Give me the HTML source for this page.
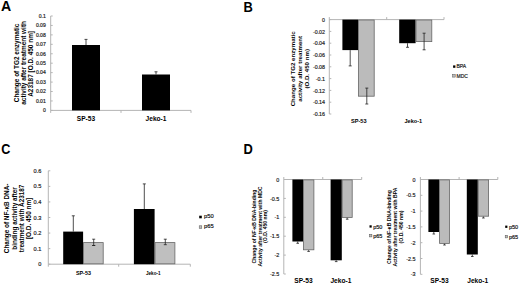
<!DOCTYPE html>
<html><head><meta charset="utf-8"><style>
html,body{margin:0;padding:0;background:#fff;}
svg{display:block;font-family:"Liberation Sans", sans-serif;}
</style></head><body>
<svg width="520" height="286" viewBox="0 0 520 286">
<rect width="520" height="286" fill="#fff"/>
<text transform="translate(1 11.4) scale(0.93 1)" font-size="15.2" font-weight="bold">A</text>
<line x1="50.7" y1="16" x2="50.7" y2="110.4" stroke="#b4b4b4" stroke-width="1"/>
<line x1="50.7" y1="110.4" x2="191" y2="110.4" stroke="#b4b4b4" stroke-width="1"/>
<line x1="50.7" y1="110.4" x2="52.7" y2="110.4" stroke="#b4b4b4" stroke-width="1"/>
<text x="45.8" y="112.2" font-size="5.1" text-anchor="end" fill="#222" stroke="#222" stroke-width="0.18">0</text>
<line x1="50.7" y1="100.96000000000001" x2="52.7" y2="100.96000000000001" stroke="#b4b4b4" stroke-width="1"/>
<text x="45.8" y="102.76" font-size="5.1" text-anchor="end" fill="#222" stroke="#222" stroke-width="0.18">0.01</text>
<line x1="50.7" y1="91.52000000000001" x2="52.7" y2="91.52000000000001" stroke="#b4b4b4" stroke-width="1"/>
<text x="45.8" y="93.32000000000001" font-size="5.1" text-anchor="end" fill="#222" stroke="#222" stroke-width="0.18">0.02</text>
<line x1="50.7" y1="82.08" x2="52.7" y2="82.08" stroke="#b4b4b4" stroke-width="1"/>
<text x="45.8" y="83.88" font-size="5.1" text-anchor="end" fill="#222" stroke="#222" stroke-width="0.18">0.03</text>
<line x1="50.7" y1="72.64" x2="52.7" y2="72.64" stroke="#b4b4b4" stroke-width="1"/>
<text x="45.8" y="74.44" font-size="5.1" text-anchor="end" fill="#222" stroke="#222" stroke-width="0.18">0.04</text>
<line x1="50.7" y1="63.2" x2="52.7" y2="63.2" stroke="#b4b4b4" stroke-width="1"/>
<text x="45.8" y="65.0" font-size="5.1" text-anchor="end" fill="#222" stroke="#222" stroke-width="0.18">0.05</text>
<line x1="50.7" y1="53.76" x2="52.7" y2="53.76" stroke="#b4b4b4" stroke-width="1"/>
<text x="45.8" y="55.559999999999995" font-size="5.1" text-anchor="end" fill="#222" stroke="#222" stroke-width="0.18">0.06</text>
<line x1="50.7" y1="44.31999999999999" x2="52.7" y2="44.31999999999999" stroke="#b4b4b4" stroke-width="1"/>
<text x="45.8" y="46.11999999999999" font-size="5.1" text-anchor="end" fill="#222" stroke="#222" stroke-width="0.18">0.07</text>
<line x1="50.7" y1="34.879999999999995" x2="52.7" y2="34.879999999999995" stroke="#b4b4b4" stroke-width="1"/>
<text x="45.8" y="36.67999999999999" font-size="5.1" text-anchor="end" fill="#222" stroke="#222" stroke-width="0.18">0.08</text>
<line x1="50.7" y1="25.439999999999998" x2="52.7" y2="25.439999999999998" stroke="#b4b4b4" stroke-width="1"/>
<text x="45.8" y="27.24" font-size="5.1" text-anchor="end" fill="#222" stroke="#222" stroke-width="0.18">0.09</text>
<line x1="50.7" y1="16.0" x2="52.7" y2="16.0" stroke="#b4b4b4" stroke-width="1"/>
<text x="45.8" y="17.8" font-size="5.1" text-anchor="end" fill="#222" stroke="#222" stroke-width="0.18">0.1</text>
<line x1="50.7" y1="110.4" x2="50.7" y2="112.9" stroke="#b4b4b4" stroke-width="1"/>
<line x1="121" y1="110.4" x2="121" y2="112.9" stroke="#b4b4b4" stroke-width="1"/>
<line x1="191" y1="110.4" x2="191" y2="112.9" stroke="#b4b4b4" stroke-width="1"/>
<rect x="72" y="45" width="28" height="65.4" fill="#000"/>
<line x1="86" y1="45" x2="86" y2="39.4" stroke="#222" stroke-width="0.8"/>
<line x1="84.5" y1="39.4" x2="87.5" y2="39.4" stroke="#222" stroke-width="0.8"/>
<rect x="142" y="74.5" width="28" height="35.900000000000006" fill="#000"/>
<line x1="156" y1="74.5" x2="156" y2="71.8" stroke="#222" stroke-width="0.8"/>
<line x1="154.5" y1="71.8" x2="157.5" y2="71.8" stroke="#222" stroke-width="0.8"/>
<text x="86" y="120.8" font-size="6.6" text-anchor="middle" font-weight="bold" fill="#000">SP-53</text>
<text x="156" y="120.8" font-size="6.6" text-anchor="middle" font-weight="bold" fill="#000">Jeko-1</text>
<text x="19.3" y="62.9" font-size="6.45" text-anchor="middle" font-weight="bold" fill="#000" transform="rotate(-90 19.3 62.9)">Change of TG2 enzymatic</text>
<text x="26.1" y="62.9" font-size="6.45" text-anchor="middle" font-weight="bold" fill="#000" transform="rotate(-90 26.1 62.9)">activity after treatment with</text>
<text x="33.3" y="63.9" font-size="6.45" text-anchor="middle" font-weight="bold" fill="#000" transform="rotate(-90 33.3 63.9)">A23187 [O.D. 450 nm]</text>
<text transform="translate(243.6 11.8) scale(0.87 1)" font-size="14.8" font-weight="bold">B</text>
<line x1="329.3" y1="19.6" x2="329.3" y2="114" stroke="#b4b4b4" stroke-width="1"/>
<line x1="329.3" y1="19.6" x2="444" y2="19.6" stroke="#b4b4b4" stroke-width="1"/>
<line x1="329.3" y1="19.6" x2="331.3" y2="19.6" stroke="#b4b4b4" stroke-width="1"/>
<text x="325" y="21.700000000000003" font-size="5.3" text-anchor="end" fill="#222" stroke="#222" stroke-width="0.18">0</text>
<line x1="329.3" y1="31.400000000000002" x2="331.3" y2="31.400000000000002" stroke="#b4b4b4" stroke-width="1"/>
<text x="325" y="33.5" font-size="5.3" text-anchor="end" fill="#222" stroke="#222" stroke-width="0.18">-0.02</text>
<line x1="329.3" y1="43.2" x2="331.3" y2="43.2" stroke="#b4b4b4" stroke-width="1"/>
<text x="325" y="45.300000000000004" font-size="5.3" text-anchor="end" fill="#222" stroke="#222" stroke-width="0.18">-0.04</text>
<line x1="329.3" y1="55.00000000000001" x2="331.3" y2="55.00000000000001" stroke="#b4b4b4" stroke-width="1"/>
<text x="325" y="57.10000000000001" font-size="5.3" text-anchor="end" fill="#222" stroke="#222" stroke-width="0.18">-0.06</text>
<line x1="329.3" y1="66.80000000000001" x2="331.3" y2="66.80000000000001" stroke="#b4b4b4" stroke-width="1"/>
<text x="325" y="68.9" font-size="5.3" text-anchor="end" fill="#222" stroke="#222" stroke-width="0.18">-0.08</text>
<line x1="329.3" y1="78.6" x2="331.3" y2="78.6" stroke="#b4b4b4" stroke-width="1"/>
<text x="325" y="80.69999999999999" font-size="5.3" text-anchor="end" fill="#222" stroke="#222" stroke-width="0.18">-0.1</text>
<line x1="329.3" y1="90.4" x2="331.3" y2="90.4" stroke="#b4b4b4" stroke-width="1"/>
<text x="325" y="92.5" font-size="5.3" text-anchor="end" fill="#222" stroke="#222" stroke-width="0.18">-0.12</text>
<line x1="329.3" y1="102.20000000000002" x2="331.3" y2="102.20000000000002" stroke="#b4b4b4" stroke-width="1"/>
<text x="325" y="104.30000000000001" font-size="5.3" text-anchor="end" fill="#222" stroke="#222" stroke-width="0.18">-0.14</text>
<line x1="329.3" y1="114.0" x2="331.3" y2="114.0" stroke="#b4b4b4" stroke-width="1"/>
<text x="325" y="116.1" font-size="5.3" text-anchor="end" fill="#222" stroke="#222" stroke-width="0.18">-0.16</text>
<line x1="329.3" y1="19.6" x2="329.3" y2="17.1" stroke="#b4b4b4" stroke-width="1"/>
<line x1="386.7" y1="19.6" x2="386.7" y2="17.1" stroke="#b4b4b4" stroke-width="1"/>
<line x1="444" y1="19.6" x2="444" y2="17.1" stroke="#b4b4b4" stroke-width="1"/>
<rect x="342.4" y="19.6" width="15.600000000000023" height="30.5" fill="#000"/>
<line x1="350.2" y1="50.1" x2="350.2" y2="65.9" stroke="#222" stroke-width="0.8"/>
<line x1="348.7" y1="65.9" x2="351.7" y2="65.9" stroke="#222" stroke-width="0.8"/>
<rect x="358.4" y="20.0" width="15.800000000000022" height="76.2" fill="#bbbbbb" stroke="#666" stroke-width="0.8"/>
<line x1="366.8" y1="88.1" x2="366.8" y2="104" stroke="#222" stroke-width="0.8"/>
<line x1="365.3" y1="104" x2="368.3" y2="104" stroke="#222" stroke-width="0.8"/>
<rect x="399.2" y="19.6" width="16.400000000000034" height="23.6" fill="#000"/>
<line x1="407.5" y1="43.2" x2="407.5" y2="47.3" stroke="#222" stroke-width="0.8"/>
<line x1="406.0" y1="47.3" x2="409.0" y2="47.3" stroke="#222" stroke-width="0.8"/>
<rect x="416.0" y="20.0" width="15.799999999999965" height="21.599999999999998" fill="#bbbbbb" stroke="#666" stroke-width="0.8"/>
<line x1="424.1" y1="33.2" x2="424.1" y2="49.8" stroke="#222" stroke-width="0.8"/>
<line x1="422.6" y1="49.8" x2="425.6" y2="49.8" stroke="#222" stroke-width="0.8"/>
<line x1="422.6" y1="33.2" x2="425.6" y2="33.2" stroke="#222" stroke-width="0.8"/>
<line x1="365.3" y1="88.1" x2="368.3" y2="88.1" stroke="#222" stroke-width="0.8"/>
<text x="358.8" y="123.4" font-size="5.6" text-anchor="middle" font-weight="bold" fill="#000">SP-53</text>
<text x="413.3" y="123.4" font-size="5.6" text-anchor="middle" font-weight="bold" fill="#000">Jeko-1</text>
<rect x="453.1" y="65.4" width="2.3" height="2.4" fill="#000"/>
<text x="456.5" y="68.4" font-size="5" text-anchor="start" fill="#222" stroke="#222" stroke-width="0.18">BPA</text>
<rect x="452.6" y="74.4" width="2.6" height="2.7" fill="#bbbbbb" stroke="#555" stroke-width="0.5"/>
<text x="456.5" y="77.5" font-size="5" text-anchor="start" fill="#222" stroke="#222" stroke-width="0.18">MDC</text>
<text x="295.2" y="68.8" font-size="6.15" text-anchor="middle" font-weight="bold" fill="#000" transform="rotate(-90 295.2 68.8)">Change of TG2 enzymatic</text>
<text x="302.3" y="68.8" font-size="6.15" text-anchor="middle" font-weight="bold" fill="#000" transform="rotate(-90 302.3 68.8)">activity after treatment</text>
<text x="309.3" y="68.8" font-size="6.15" text-anchor="middle" font-weight="bold" fill="#000" transform="rotate(-90 309.3 68.8)">(O.D. 450 nm)</text>
<text transform="translate(1.2 153.9) scale(0.85 1)" font-size="14.8" font-weight="bold">C</text>
<line x1="48.3" y1="170.8" x2="48.3" y2="264.2" stroke="#b4b4b4" stroke-width="1"/>
<line x1="48.3" y1="264.2" x2="190.3" y2="264.2" stroke="#b4b4b4" stroke-width="1"/>
<line x1="48.3" y1="264.2" x2="50.3" y2="264.2" stroke="#b4b4b4" stroke-width="1"/>
<text x="41.3" y="266.2" font-size="5.6" text-anchor="end" fill="#222" stroke="#222" stroke-width="0.18">0</text>
<line x1="48.3" y1="248.63333333333333" x2="50.3" y2="248.63333333333333" stroke="#b4b4b4" stroke-width="1"/>
<text x="41.3" y="250.63333333333333" font-size="5.6" text-anchor="end" fill="#222" stroke="#222" stroke-width="0.18">0.1</text>
<line x1="48.3" y1="233.06666666666666" x2="50.3" y2="233.06666666666666" stroke="#b4b4b4" stroke-width="1"/>
<text x="41.3" y="235.06666666666666" font-size="5.6" text-anchor="end" fill="#222" stroke="#222" stroke-width="0.18">0.2</text>
<line x1="48.3" y1="217.5" x2="50.3" y2="217.5" stroke="#b4b4b4" stroke-width="1"/>
<text x="41.3" y="219.5" font-size="5.6" text-anchor="end" fill="#222" stroke="#222" stroke-width="0.18">0.3</text>
<line x1="48.3" y1="201.93333333333334" x2="50.3" y2="201.93333333333334" stroke="#b4b4b4" stroke-width="1"/>
<text x="41.3" y="203.93333333333334" font-size="5.6" text-anchor="end" fill="#222" stroke="#222" stroke-width="0.18">0.4</text>
<line x1="48.3" y1="186.36666666666667" x2="50.3" y2="186.36666666666667" stroke="#b4b4b4" stroke-width="1"/>
<text x="41.3" y="188.36666666666667" font-size="5.6" text-anchor="end" fill="#222" stroke="#222" stroke-width="0.18">0.5</text>
<line x1="48.3" y1="170.8" x2="50.3" y2="170.8" stroke="#b4b4b4" stroke-width="1"/>
<text x="41.3" y="172.8" font-size="5.6" text-anchor="end" fill="#222" stroke="#222" stroke-width="0.18">0.6</text>
<line x1="48.3" y1="264.2" x2="48.3" y2="266.7" stroke="#b4b4b4" stroke-width="1"/>
<line x1="118.7" y1="264.2" x2="118.7" y2="266.7" stroke="#b4b4b4" stroke-width="1"/>
<line x1="190.3" y1="264.2" x2="190.3" y2="266.7" stroke="#b4b4b4" stroke-width="1"/>
<rect x="63.2" y="231.6" width="19.89999999999999" height="32.599999999999994" fill="#000"/>
<line x1="73.3" y1="231.6" x2="73.3" y2="215.8" stroke="#222" stroke-width="0.8"/>
<line x1="71.8" y1="215.8" x2="74.8" y2="215.8" stroke="#222" stroke-width="0.8"/>
<rect x="83.5" y="242.6" width="19.7" height="21.2" fill="#bfbfbf" stroke="#666" stroke-width="0.8"/>
<line x1="93.7" y1="239.2" x2="93.7" y2="245.5" stroke="#222" stroke-width="0.8"/>
<line x1="92.2" y1="245.5" x2="95.2" y2="245.5" stroke="#222" stroke-width="0.8"/>
<line x1="92.2" y1="245.5" x2="95.2" y2="245.5" stroke="#222" stroke-width="0.8"/>
<line x1="92.2" y1="239.2" x2="95.2" y2="239.2" stroke="#222" stroke-width="0.8"/>
<rect x="133.9" y="209" width="20.69999999999999" height="55.19999999999999" fill="#000"/>
<line x1="144.3" y1="209" x2="144.3" y2="183.9" stroke="#222" stroke-width="0.8"/>
<line x1="142.8" y1="183.9" x2="145.8" y2="183.9" stroke="#222" stroke-width="0.8"/>
<rect x="155.0" y="242.6" width="19.900000000000016" height="21.2" fill="#bfbfbf" stroke="#666" stroke-width="0.8"/>
<line x1="165.3" y1="239.2" x2="165.3" y2="244.7" stroke="#222" stroke-width="0.8"/>
<line x1="163.8" y1="244.7" x2="166.8" y2="244.7" stroke="#222" stroke-width="0.8"/>
<line x1="163.8" y1="239.2" x2="166.8" y2="239.2" stroke="#222" stroke-width="0.8"/>
<text x="83.4" y="274.8" font-size="5.4" text-anchor="middle" font-weight="bold" fill="#000">SP-53</text>
<text x="153.3" y="274.8" font-size="5.4" text-anchor="middle" font-weight="bold" fill="#000" textLength="14.6" lengthAdjust="spacingAndGlyphs">Jeko-1</text>
<rect x="199.2" y="215.7" width="2.6" height="2.6" fill="#000"/>
<text x="204.1" y="218.1" font-size="5.8" text-anchor="start" fill="#111" stroke="#111" stroke-width="0.18">p50</text>
<rect x="199.2" y="225.8" width="2.6" height="2.6" fill="#bbbbbb" stroke="#555" stroke-width="0.5"/>
<text x="204.1" y="228.3" font-size="5.8" text-anchor="start" fill="#111" stroke="#111" stroke-width="0.18">p65</text>
<text x="8.899999999999999" y="218.4" font-size="6.4" text-anchor="middle" font-weight="bold" fill="#000" transform="rotate(-90 8.899999999999999 218.4)">Change of NF-κB DNA-</text>
<text x="16.6" y="218.4" font-size="6.4" text-anchor="middle" font-weight="bold" fill="#000" transform="rotate(-90 16.6 218.4)">binding activity after</text>
<text x="24.2" y="218.4" font-size="6.4" text-anchor="middle" font-weight="bold" fill="#000" transform="rotate(-90 24.2 218.4)">treatment with A23187</text>
<text x="30.7" y="218.4" font-size="6.4" text-anchor="middle" font-weight="bold" fill="#000" transform="rotate(-90 30.7 218.4)">[O.D. 450 nm]</text>
<text transform="translate(243.6 153.9) scale(0.87 1)" font-size="14.8" font-weight="bold">D</text>
<line x1="283.8" y1="179.5" x2="283.8" y2="274" stroke="#b4b4b4" stroke-width="1"/>
<line x1="283.8" y1="179.5" x2="361.7" y2="179.5" stroke="#b4b4b4" stroke-width="1"/>
<line x1="283.8" y1="179.5" x2="285.8" y2="179.5" stroke="#b4b4b4" stroke-width="1"/>
<text x="279.3" y="181.6" font-size="5.4" text-anchor="end" fill="#222" stroke="#222" stroke-width="0.18">0</text>
<line x1="283.8" y1="198.4" x2="285.8" y2="198.4" stroke="#b4b4b4" stroke-width="1"/>
<text x="279.3" y="200.5" font-size="5.4" text-anchor="end" fill="#222" stroke="#222" stroke-width="0.18">-0.5</text>
<line x1="283.8" y1="217.3" x2="285.8" y2="217.3" stroke="#b4b4b4" stroke-width="1"/>
<text x="279.3" y="219.4" font-size="5.4" text-anchor="end" fill="#222" stroke="#222" stroke-width="0.18">-1</text>
<line x1="283.8" y1="236.2" x2="285.8" y2="236.2" stroke="#b4b4b4" stroke-width="1"/>
<text x="279.3" y="238.29999999999998" font-size="5.4" text-anchor="end" fill="#222" stroke="#222" stroke-width="0.18">-1.5</text>
<line x1="283.8" y1="255.1" x2="285.8" y2="255.1" stroke="#b4b4b4" stroke-width="1"/>
<text x="279.3" y="257.2" font-size="5.4" text-anchor="end" fill="#222" stroke="#222" stroke-width="0.18">-2</text>
<line x1="283.8" y1="274.0" x2="285.8" y2="274.0" stroke="#b4b4b4" stroke-width="1"/>
<text x="279.3" y="276.1" font-size="5.4" text-anchor="end" fill="#222" stroke="#222" stroke-width="0.18">-2.5</text>
<line x1="283.8" y1="179.5" x2="283.8" y2="177.0" stroke="#b4b4b4" stroke-width="1"/>
<line x1="322.75" y1="179.5" x2="322.75" y2="177.0" stroke="#b4b4b4" stroke-width="1"/>
<line x1="361.7" y1="179.5" x2="361.7" y2="177.0" stroke="#b4b4b4" stroke-width="1"/>
<rect x="292.4" y="179.5" width="10.600000000000023" height="62.0" fill="#000"/>
<rect x="303.4" y="179.9" width="10.50000000000001" height="69.89999999999999" fill="#bbbbbb" stroke="#666" stroke-width="0.8"/>
<rect x="330.6" y="179.5" width="11.199999999999989" height="80.80000000000001" fill="#000"/>
<rect x="342.2" y="179.9" width="10.00000000000001" height="37.500000000000014" fill="#bbbbbb" stroke="#666" stroke-width="0.8"/>
<line x1="297.7" y1="241.5" x2="297.7" y2="243.3" stroke="#222" stroke-width="0.8"/>
<line x1="296.4" y1="243.3" x2="299.0" y2="243.3" stroke="#222" stroke-width="0.8"/>
<line x1="308.6" y1="250.2" x2="308.6" y2="251.4" stroke="#222" stroke-width="0.8"/>
<line x1="307.3" y1="251.4" x2="309.90000000000003" y2="251.4" stroke="#222" stroke-width="0.8"/>
<line x1="336.2" y1="260.3" x2="336.2" y2="261.6" stroke="#222" stroke-width="0.8"/>
<line x1="334.9" y1="261.6" x2="337.5" y2="261.6" stroke="#222" stroke-width="0.8"/>
<line x1="347.2" y1="217.8" x2="347.2" y2="219.2" stroke="#222" stroke-width="0.8"/>
<line x1="345.9" y1="219.2" x2="348.5" y2="219.2" stroke="#222" stroke-width="0.8"/>
<text x="303.4" y="283.4" font-size="6.6" text-anchor="middle" font-weight="bold" fill="#000">SP-53</text>
<text x="340.9" y="283.4" font-size="6.6" text-anchor="middle" font-weight="bold" fill="#000">Jeko-1</text>
<rect x="369.5" y="225.3" width="2.2" height="2.3" fill="#000"/>
<text x="373.2" y="228.5" font-size="5.5" text-anchor="start" fill="#111" stroke="#111" stroke-width="0.18">p50</text>
<rect x="369.5" y="234.3" width="2.4" height="2.6" fill="#bbbbbb" stroke="#555" stroke-width="0.5"/>
<text x="373.2" y="237.5" font-size="5.5" text-anchor="start" fill="#111" stroke="#111" stroke-width="0.18">p65</text>
<text x="255.9" y="226.5" font-size="5.1" text-anchor="middle" font-weight="bold" fill="#000" transform="rotate(-90 255.9 226.5)">Change of NF-κB DNA-binding</text>
<text x="261.7" y="226.5" font-size="5.1" text-anchor="middle" font-weight="bold" fill="#000" transform="rotate(-90 261.7 226.5)">Activity after treatment with MDC</text>
<text x="267.3" y="226.5" font-size="5.1" text-anchor="middle" font-weight="bold" fill="#000" transform="rotate(-90 267.3 226.5)">(O.D. 450 nm)</text>
<line x1="420.4" y1="179.5" x2="420.4" y2="274.3" stroke="#b4b4b4" stroke-width="1"/>
<line x1="420.4" y1="179.5" x2="497.8" y2="179.5" stroke="#b4b4b4" stroke-width="1"/>
<line x1="420.4" y1="179.5" x2="422.4" y2="179.5" stroke="#b4b4b4" stroke-width="1"/>
<text x="415.6" y="181.6" font-size="5.4" text-anchor="end" fill="#222" stroke="#222" stroke-width="0.18">0</text>
<line x1="420.4" y1="195.3" x2="422.4" y2="195.3" stroke="#b4b4b4" stroke-width="1"/>
<text x="415.6" y="197.4" font-size="5.4" text-anchor="end" fill="#222" stroke="#222" stroke-width="0.18">-0.5</text>
<line x1="420.4" y1="211.1" x2="422.4" y2="211.1" stroke="#b4b4b4" stroke-width="1"/>
<text x="415.6" y="213.2" font-size="5.4" text-anchor="end" fill="#222" stroke="#222" stroke-width="0.18">-1</text>
<line x1="420.4" y1="226.9" x2="422.4" y2="226.9" stroke="#b4b4b4" stroke-width="1"/>
<text x="415.6" y="229.0" font-size="5.4" text-anchor="end" fill="#222" stroke="#222" stroke-width="0.18">-1.5</text>
<line x1="420.4" y1="242.70000000000002" x2="422.4" y2="242.70000000000002" stroke="#b4b4b4" stroke-width="1"/>
<text x="415.6" y="244.8" font-size="5.4" text-anchor="end" fill="#222" stroke="#222" stroke-width="0.18">-2</text>
<line x1="420.4" y1="258.5" x2="422.4" y2="258.5" stroke="#b4b4b4" stroke-width="1"/>
<text x="415.6" y="260.6" font-size="5.4" text-anchor="end" fill="#222" stroke="#222" stroke-width="0.18">-2.5</text>
<line x1="420.4" y1="274.3" x2="422.4" y2="274.3" stroke="#b4b4b4" stroke-width="1"/>
<text x="415.6" y="276.40000000000003" font-size="5.4" text-anchor="end" fill="#222" stroke="#222" stroke-width="0.18">-3</text>
<line x1="420.4" y1="179.5" x2="420.4" y2="177.0" stroke="#b4b4b4" stroke-width="1"/>
<line x1="459.1" y1="179.5" x2="459.1" y2="177.0" stroke="#b4b4b4" stroke-width="1"/>
<line x1="497.8" y1="179.5" x2="497.8" y2="177.0" stroke="#b4b4b4" stroke-width="1"/>
<rect x="428.4" y="179.5" width="10.800000000000011" height="52.5" fill="#000"/>
<rect x="439.59999999999997" y="179.9" width="9.899999999999988" height="63.500000000000014" fill="#bbbbbb" stroke="#666" stroke-width="0.8"/>
<rect x="466.8" y="179.5" width="11.0" height="75.0" fill="#000"/>
<rect x="478.2" y="179.9" width="10.399999999999988" height="36.3" fill="#bbbbbb" stroke="#666" stroke-width="0.8"/>
<line x1="433.8" y1="232" x2="433.8" y2="234" stroke="#222" stroke-width="0.8"/>
<line x1="432.5" y1="234" x2="435.1" y2="234" stroke="#222" stroke-width="0.8"/>
<line x1="444.5" y1="243.8" x2="444.5" y2="245" stroke="#222" stroke-width="0.8"/>
<line x1="443.2" y1="245" x2="445.8" y2="245" stroke="#222" stroke-width="0.8"/>
<line x1="472.3" y1="254.5" x2="472.3" y2="256.5" stroke="#222" stroke-width="0.8"/>
<line x1="471.0" y1="256.5" x2="473.6" y2="256.5" stroke="#222" stroke-width="0.8"/>
<line x1="483.4" y1="216.6" x2="483.4" y2="218" stroke="#222" stroke-width="0.8"/>
<line x1="482.09999999999997" y1="218" x2="484.7" y2="218" stroke="#222" stroke-width="0.8"/>
<text x="439.4" y="283.4" font-size="6.6" text-anchor="middle" font-weight="bold" fill="#000">SP-53</text>
<text x="477.7" y="283.4" font-size="6.6" text-anchor="middle" font-weight="bold" fill="#000">Jeko-1</text>
<rect x="505.2" y="225.6" width="2.2" height="2.3" fill="#000"/>
<text x="508.9" y="228.79999999999998" font-size="5.5" text-anchor="start" fill="#111" stroke="#111" stroke-width="0.18">p50</text>
<rect x="505.2" y="235.3" width="2.4" height="2.6" fill="#bbbbbb" stroke="#555" stroke-width="0.5"/>
<text x="508.9" y="238.5" font-size="5.5" text-anchor="start" fill="#111" stroke="#111" stroke-width="0.18">p65</text>
<text x="391.1" y="227" font-size="5.1" text-anchor="middle" font-weight="bold" fill="#000" transform="rotate(-90 391.1 227)">Change of NF-κB DNA-binding</text>
<text x="397.1" y="227" font-size="5.1" text-anchor="middle" font-weight="bold" fill="#000" transform="rotate(-90 397.1 227)">Activity after treatment with BPA</text>
<text x="403.3" y="227" font-size="5.1" text-anchor="middle" font-weight="bold" fill="#000" transform="rotate(-90 403.3 227)">(O.D. 450 nm)</text>
</svg>
</body></html>
